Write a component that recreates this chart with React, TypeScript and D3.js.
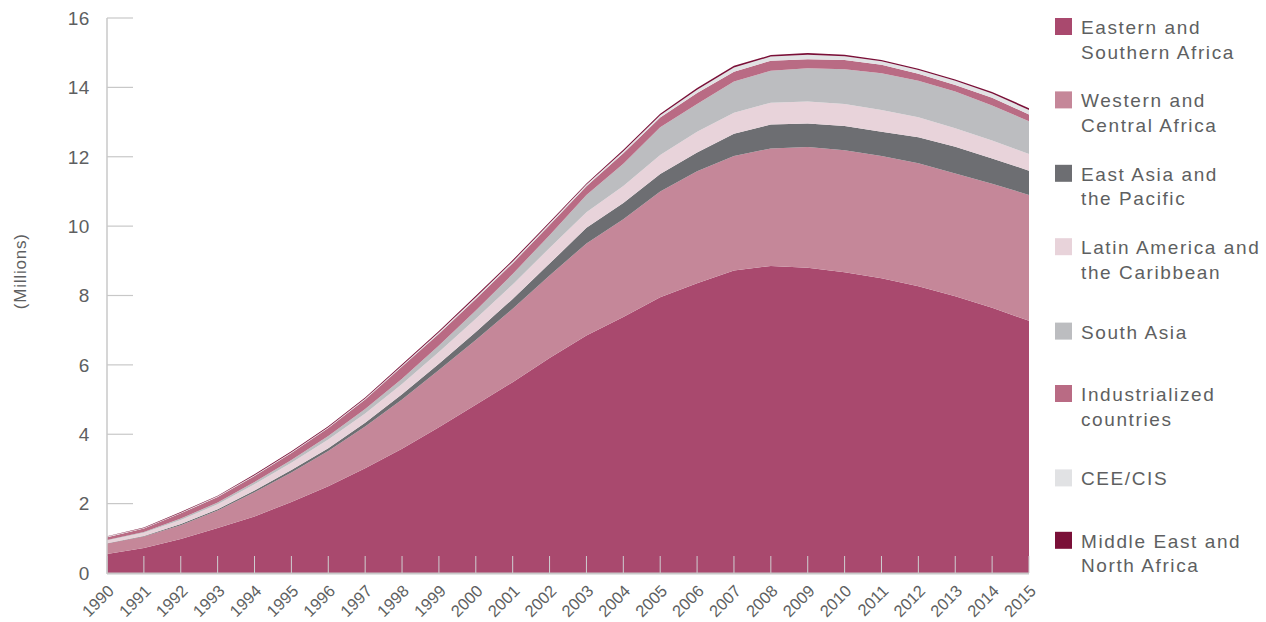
import React from 'react';
import * as d3 from 'd3';

const years = [1990, 1991, 1992, 1993, 1994, 1995, 1996, 1997, 1998, 1999, 2000, 2001, 2002, 2003, 2004, 2005, 2006, 2007, 2008, 2009, 2010, 2011, 2012, 2013, 2014, 2015];

const easternSouthernAfrica = [0.55, 0.72, 0.98, 1.30, 1.63, 2.05, 2.50, 3.02, 3.58, 4.20, 4.85, 5.50, 6.20, 6.85, 7.38, 7.95, 8.35, 8.72, 8.85, 8.80, 8.67, 8.50, 8.27, 7.98, 7.65, 7.27];
const westernCentralAfrica = [0.30, 0.33, 0.40, 0.50, 0.70, 0.85, 1.02, 1.20, 1.42, 1.65, 1.87, 2.12, 2.38, 2.65, 2.82, 3.05, 3.23, 3.30, 3.39, 3.48, 3.52, 3.52, 3.54, 3.54, 3.57, 3.63];
const eastAsiaPacific = [0.01, 0.02, 0.03, 0.04, 0.05, 0.07, 0.08, 0.11, 0.15, 0.18, 0.23, 0.28, 0.34, 0.45, 0.47, 0.50, 0.54, 0.64, 0.69, 0.68, 0.70, 0.70, 0.75, 0.77, 0.73, 0.70];
const latinAmericaCaribbean = [0.08, 0.09, 0.12, 0.14, 0.18, 0.21, 0.25, 0.27, 0.30, 0.34, 0.38, 0.42, 0.45, 0.45, 0.49, 0.55, 0.60, 0.61, 0.63, 0.63, 0.63, 0.63, 0.58, 0.53, 0.52, 0.48];
const southAsia = [0.01, 0.02, 0.04, 0.05, 0.06, 0.08, 0.10, 0.13, 0.15, 0.19, 0.24, 0.30, 0.37, 0.50, 0.64, 0.80, 0.80, 0.90, 0.92, 0.96, 1.00, 1.06, 1.05, 1.06, 1.01, 0.94];
const industrializedCountries = [0.08, 0.10, 0.15, 0.16, 0.18, 0.20, 0.23, 0.27, 0.35, 0.34, 0.33, 0.31, 0.29, 0.25, 0.30, 0.28, 0.32, 0.28, 0.29, 0.26, 0.27, 0.24, 0.20, 0.19, 0.22, 0.20];
const ceeCis = [0.02, 0.02, 0.02, 0.02, 0.02, 0.02, 0.02, 0.03, 0.03, 0.04, 0.05, 0.05, 0.05, 0.05, 0.06, 0.07, 0.09, 0.12, 0.12, 0.13, 0.11, 0.10, 0.11, 0.12, 0.12, 0.13];
const middleEastNorthAfrica = [0.01, 0.01, 0.02, 0.02, 0.03, 0.03, 0.03, 0.03, 0.04, 0.04, 0.04, 0.04, 0.04, 0.03, 0.04, 0.04, 0.05, 0.05, 0.04, 0.05, 0.04, 0.04, 0.04, 0.04, 0.05, 0.05];

const seriesKeys = ['esa', 'wca', 'eap', 'lac', 'sa', 'ind', 'cee', 'mena'];
const seriesValues = [easternSouthernAfrica, westernCentralAfrica, eastAsiaPacific, latinAmericaCaribbean, southAsia, industrializedCountries, ceeCis, middleEastNorthAfrica];
const seriesLabels = [
  ['Eastern and', 'Southern Africa'],
  ['Western and', 'Central Africa'],
  ['East Asia and', 'the Pacific'],
  ['Latin America and', 'the Caribbean'],
  ['South Asia'],
  ['Industrialized', 'countries'],
  ['CEE/CIS'],
  ['Middle East and', 'North Africa'],
];
const seriesColors = ['#a9496e', '#c58799', '#6d6e72', '#e8d3da', '#bcbdc0', '#b96b84', '#e1e2e4', '#7a1038'];

const yTicks = [0, 2, 4, 6, 8, 10, 12, 14, 16];
const yLabel = '(Millions)';

const FONT = '"Liberation Sans", Arial, Helvetica, sans-serif';
const TEXT = '#5e5f61';
const AXIS = '#c8c8c8';

export default function App() {
  const x = d3.scaleLinear().domain([years[0], years[years.length - 1]]).range([107, 1029]);
  const y = d3.scaleLinear().domain([0, 16]).range([573, 18]);

  const table = years.map((yr, i) => {
    const row: any = { year: yr };
    seriesKeys.forEach((k, j) => { row[k] = seriesValues[j][i]; });
    return row;
  });
  const stacked = d3.stack<any>().keys(seriesKeys)(table);
  const area = d3.area<any>()
    .x((d) => x(d.data.year))
    .y0((d) => y(d[0]))
    .y1((d) => y(d[1]));

  const legendX = 1055;
  const slot0 = 39;
  const slotStep = 73.4;

  return (
    <svg width={1266} height={622} style={{ position: 'absolute', left: 0, top: 0, background: '#fff' }} fontFamily={FONT}>
      {yTicks.slice(1).map((t) => (
        <line key={'yt' + t} x1={x(years[0])} x2={x(years[0]) + 26} y1={y(t)} y2={y(t)} stroke={AXIS} strokeWidth={1.2} />
      ))}
      {stacked.map((s, i) => (
        <path key={s.key} d={area(s as any) || ''} fill={seriesColors[i]} />
      ))}
      {years.map((yr) => (
        <line key={'xt' + yr} x1={x(yr)} x2={x(yr)} y1={y(0) - 17} y2={y(0)} stroke="#cfcfd1" strokeWidth={1} />
      ))}
      <line x1={x(years[0])} x2={x(years[0])} y1={y(16)} y2={y(0) + 1} stroke={AXIS} strokeWidth={1.5} />
      <line x1={x(years[0])} x2={x(years[years.length - 1])} y1={y(0) + 0.5} y2={y(0) + 0.5} stroke={AXIS} strokeWidth={2} />
      {yTicks.map((t) => (
        <text key={'yl' + t} x={90} y={y(t)} dy="0.36em" textAnchor="end" fontSize={19} letterSpacing={0.6} fill={TEXT}>{t}</text>
      ))}
      <text transform={`translate(26, ${y(8.7)}) rotate(-90)`} textAnchor="middle" fontSize={17} letterSpacing={0.8} fill={TEXT}>{yLabel}</text>
      {years.map((yr) => (
        <text key={'xl' + yr} transform={`translate(${x(yr) + 8}, 592) rotate(-45)`} textAnchor="end" fontSize={16.5} fill={TEXT}>{yr}</text>
      ))}
      {seriesLabels.map((lines, i) => {
        const c = slot0 + slotStep * i;
        const top = lines.length > 1 ? c - 21 : c - 10;
        return (
          <g key={'lg' + i}>
            <rect x={legendX} y={top} width={17} height={17} fill={seriesColors[i]} />
            {lines.map((ln, j) => (
              <text key={j} x={1081} y={top + 16 + j * 24.5} fontSize={19} letterSpacing={1.6} fill={TEXT}>{ln}</text>
            ))}
          </g>
        );
      })}
    </svg>
  );
}
